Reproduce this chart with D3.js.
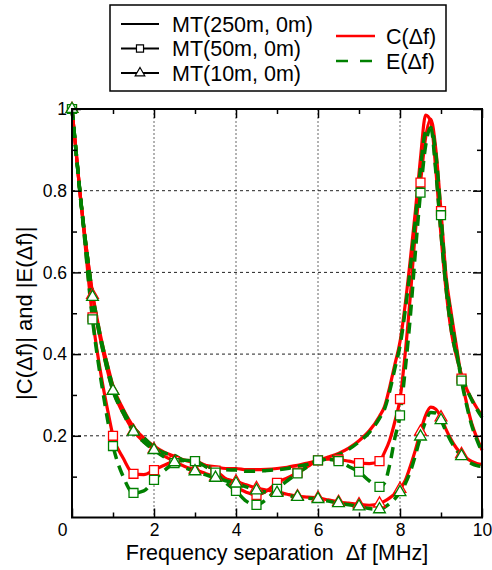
<!DOCTYPE html>
<html>
<head>
<meta charset="utf-8">
<script src="https://cdn.jsdelivr.net/npm/d3@7"></script>
<style>
  body { margin: 0; background: #fff; }
  svg { display: block; font-family: "Liberation Sans", Arial, Helvetica, sans-serif; }
</style>
</head>
<body>
<div id="chart"></div>
<script>
// frequency grid [MHz]
const freq = [0, 0.1, 0.2, 0.3, 0.4, 0.5, 0.625, 0.75, 0.875, 1,
  1.25, 1.5, 1.75, 2, 2.25, 2.5, 2.75, 3, 3.25, 3.5, 3.75, 4, 4.25, 4.5, 4.75,
  5, 5.25, 5.5, 5.75, 6, 6.25, 6.5, 6.75, 7, 7.25, 7.5,
  7.625, 7.75, 7.875, 8, 8.125, 8.25, 8.375, 8.5, 8.625, 8.75, 8.875, 9,
  9.125, 9.25, 9.375, 9.5, 9.625, 9.75, 9.875, 10];

// MT(250m, 0m)
const c250 = [1.0, 0.895, 0.79, 0.70, 0.62, 0.55, 0.48, 0.42, 0.37, 0.322,
  0.265, 0.222, 0.195, 0.175, 0.16, 0.15, 0.14, 0.134, 0.128, 0.124, 0.12, 0.12, 0.117, 0.117, 0.118,
  0.12, 0.123, 0.128, 0.133, 0.14, 0.148, 0.157, 0.17, 0.188, 0.212, 0.248,
  0.272, 0.32, 0.375, 0.43, 0.52, 0.63, 0.75, 0.88, 0.985, 0.97, 0.85, 0.69,
  0.555, 0.455, 0.395, 0.35, 0.315, 0.29, 0.268, 0.25];
const e250 = [1.0, 0.895, 0.79, 0.70, 0.62, 0.548, 0.478, 0.418, 0.367, 0.318,
  0.262, 0.22, 0.196, 0.172, 0.158, 0.152, 0.138, 0.13, 0.126, 0.12, 0.117, 0.116, 0.113, 0.113, 0.115,
  0.117, 0.12, 0.125, 0.13, 0.137, 0.145, 0.154, 0.167, 0.185, 0.208, 0.243,
  0.266, 0.31, 0.365, 0.42, 0.505, 0.61, 0.73, 0.855, 0.945, 0.955, 0.845, 0.695,
  0.56, 0.46, 0.398, 0.352, 0.315, 0.288, 0.265, 0.245];

// MT(50m, 0m)
const c50 = [1.0, 0.895, 0.79, 0.69, 0.585, 0.49, 0.40, 0.325, 0.26, 0.20,
  0.145, 0.107, 0.105, 0.116, 0.128, 0.138, 0.14, 0.138, 0.128, 0.115, 0.095, 0.075, 0.062, 0.055, 0.065,
  0.085, 0.097, 0.11, 0.125, 0.14, 0.143, 0.142, 0.138, 0.133, 0.132, 0.138,
  0.16, 0.19, 0.235, 0.29, 0.40, 0.54, 0.70, 0.82, 0.93, 0.975, 0.90, 0.75,
  0.59, 0.50, 0.42, 0.34, 0.28, 0.23, 0.195, 0.165];
const e50 = [1.0, 0.895, 0.79, 0.69, 0.58, 0.485, 0.39, 0.31, 0.235, 0.175,
  0.10, 0.06, 0.065, 0.092, 0.115, 0.133, 0.14, 0.138, 0.125, 0.11, 0.085, 0.065, 0.04, 0.031, 0.045,
  0.07, 0.09, 0.108, 0.125, 0.14, 0.142, 0.138, 0.125, 0.112, 0.09, 0.075,
  0.085, 0.13, 0.195, 0.25, 0.36, 0.49, 0.65, 0.795, 0.91, 0.955, 0.89, 0.74,
  0.58, 0.49, 0.41, 0.335, 0.275, 0.225, 0.19, 0.16];

// MT(10m, 0m)
const c10 = [1.0, 0.895, 0.79, 0.70, 0.62, 0.545, 0.47, 0.41, 0.355, 0.31,
  0.255, 0.212, 0.185, 0.167, 0.15, 0.137, 0.125, 0.117, 0.108, 0.10, 0.094, 0.088, 0.08, 0.072, 0.067,
  0.063, 0.057, 0.052, 0.05, 0.048, 0.043, 0.038, 0.035, 0.032, 0.03, 0.034,
  0.04, 0.048, 0.058, 0.07, 0.09, 0.125, 0.165, 0.21, 0.25, 0.27, 0.265, 0.245,
  0.215, 0.19, 0.17, 0.155, 0.145, 0.137, 0.132, 0.13];
const e10 = [1.0, 0.895, 0.79, 0.70, 0.62, 0.54, 0.47, 0.41, 0.355, 0.31,
  0.255, 0.21, 0.185, 0.165, 0.148, 0.135, 0.122, 0.113, 0.105, 0.097, 0.09, 0.083, 0.075, 0.066, 0.062,
  0.06, 0.054, 0.05, 0.047, 0.045, 0.04, 0.035, 0.031, 0.027, 0.022, 0.02,
  0.025, 0.034, 0.046, 0.062, 0.082, 0.112, 0.152, 0.198, 0.235, 0.257, 0.256, 0.238,
  0.21, 0.185, 0.165, 0.15, 0.14, 0.132, 0.127, 0.125];

const xTicks = [0, 2, 4, 6, 8, 10];
const xMinor = [1, 3, 5, 7, 9];
const yTicks = [0.2, 0.4, 0.6, 0.8, 1];
const yMinor = [0.1, 0.3, 0.5, 0.7, 0.9];

const scenarios = ['MT(250m, 0m)', 'MT(50m, 0m)', 'MT(10m, 0m)'];
const markerOf = [null, 'square', 'triangle'];
const cSeries = [c250, c50, c10];
const eSeries = [e250, e50, e10];

const RED = '#ff0000';
const GREEN = '#008000';

const W = 492, H = 570;
const margin = { top: 109, right: 10, bottom: 52.5, left: 72 };
const width = W - margin.left - margin.right;
const height = H - margin.top - margin.bottom;

const svg = d3.select('#chart').append('svg')
  .attr('width', W)
  .attr('height', H);

const x = d3.scaleLinear().domain([0, 10]).range([0, width]);
const y = d3.scaleLinear().domain([0, 1]).range([height, 0]);

const g = svg.append('g')
  .attr('transform', 'translate(' + margin.left + ',' + margin.top + ')');

// grid
g.append('g').selectAll('line').data([2, 4, 6, 8]).join('line')
  .attr('x1', d => x(d)).attr('x2', d => x(d))
  .attr('y1', 0).attr('y2', height)
  .attr('stroke', '#666').attr('stroke-width', 1).attr('stroke-dasharray', '2,2');
g.append('g').selectAll('line').data([0.2, 0.4, 0.6, 0.8]).join('line')
  .attr('y1', d => y(d)).attr('y2', d => y(d))
  .attr('x1', 0).attr('x2', width)
  .attr('stroke', '#222').attr('stroke-width', 1).attr('stroke-dasharray', '3,3');

// curves
const line = d3.line()
  .x((d, i) => x(freq[i]))
  .y(d => y(d))
  .curve(d3.curveMonotoneX);

cSeries.forEach(s => {
  g.append('path').datum(s).attr('d', line)
    .attr('fill', 'none').attr('stroke', RED).attr('stroke-width', 3.2);
});
eSeries.forEach(s => {
  g.append('path').datum(s).attr('d', line)
    .attr('fill', 'none').attr('stroke', GREEN).attr('stroke-width', 3.5)
    .attr('stroke-dasharray', '11,7');
});

// markers every 0.5 MHz
const markIdx = freq.map((f, i) => i).filter(i => freq[i] % 0.5 === 0 && freq[i] < 10);
const symSquare = d3.symbol(d3.symbolSquare, 80);
const symTriangle = d3.symbol(d3.symbolTriangle, 60);

function drawMarkers(series, kind, color) {
  const sym = kind === 'square' ? symSquare : symTriangle;
  g.append('g').selectAll('path').data(markIdx).join('path')
    .attr('d', sym)
    .attr('transform', i => 'translate(' + x(freq[i]) + ',' + y(series[i]) + ')')
    .attr('fill', '#fff').attr('stroke', color).attr('stroke-width', 1.3);
}
[1, 2].forEach(k => drawMarkers(cSeries[k], markerOf[k], RED));
[1, 2].forEach(k => drawMarkers(eSeries[k], markerOf[k], GREEN));

// axes (ticks pointing inwards, on all four sides)
function styleAxis(sel) {
  sel.select('.domain').remove();
  sel.selectAll('line').attr('stroke', '#000').attr('stroke-width', 1.5);
  sel.selectAll('text').attr('font-size', 17.5).attr('fill', '#000')
    .attr('font-family', '"Liberation Sans", Arial, sans-serif');
}

const xAxis = g.append('g').attr('transform', 'translate(0,' + height + ')')
  .call(d3.axisBottom(x).tickValues(xTicks).tickSize(-9).tickPadding(6).tickFormat(d3.format('d')))
  .call(styleAxis);
xAxis.selectAll('.tick').filter(d => d === 0).select('text').attr('dx', -10);
g.append('g').attr('transform', 'translate(0,' + height + ')')
  .call(d3.axisBottom(x).tickValues(xMinor).tickSize(-5).tickFormat(''))
  .call(styleAxis);
g.append('g')
  .call(d3.axisTop(x).tickValues(xTicks).tickSize(-9).tickFormat(''))
  .call(styleAxis);
g.append('g')
  .call(d3.axisTop(x).tickValues(xMinor).tickSize(-5).tickFormat(''))
  .call(styleAxis);

g.append('g')
  .call(d3.axisLeft(y).tickValues(yTicks).tickSize(-9).tickPadding(5).tickFormat(d => d === 1 ? '1' : d3.format('.1f')(d)))
  .call(styleAxis);
g.append('g')
  .call(d3.axisLeft(y).tickValues(yMinor).tickSize(-5).tickFormat(''))
  .call(styleAxis);
g.append('g').attr('transform', 'translate(' + width + ',0)')
  .call(d3.axisRight(y).tickValues(yTicks).tickSize(-9).tickFormat(''))
  .call(styleAxis);
g.append('g').attr('transform', 'translate(' + width + ',0)')
  .call(d3.axisRight(y).tickValues(yMinor).tickSize(-5).tickFormat(''))
  .call(styleAxis);

// frame
g.append('rect').attr('x', 0).attr('y', 0).attr('width', width).attr('height', height)
  .attr('fill', 'none').attr('stroke', '#000').attr('stroke-width', 2);

// axis titles
svg.append('text')
  .attr('x', margin.left + width / 2).attr('y', 560)
  .attr('text-anchor', 'middle').attr('font-size', 21.5)
  .style('white-space', 'pre')
  .text('Frequency separation  \u0394f [MHz]');
svg.append('text')
  .attr('transform', 'translate(32,' + (margin.top + height / 2) + ') rotate(-90)')
  .attr('text-anchor', 'middle').attr('font-size', 22)
  .text('|C(\u0394f)| and |E(\u0394f)|');

// legend
const legend = svg.append('g');
legend.append('rect').attr('x', 110).attr('y', 5).attr('width', 336).attr('height', 86)
  .attr('fill', '#fff').attr('stroke', '#000').attr('stroke-width', 1.5);

const rowY = [24, 48.5, 73];
scenarios.forEach((name, k) => {
  legend.append('line').attr('x1', 121).attr('x2', 159).attr('y1', rowY[k]).attr('y2', rowY[k])
    .attr('stroke', '#000').attr('stroke-width', 2);
  if (markerOf[k]) {
    const sym = markerOf[k] === 'square' ? d3.symbol(d3.symbolSquare, 50) : d3.symbol(d3.symbolTriangle, 40);
    legend.append('path').attr('d', sym)
      .attr('transform', 'translate(140,' + rowY[k] + ')')
      .attr('fill', '#fff').attr('stroke', '#000').attr('stroke-width', 1.2);
  }
  legend.append('text').attr('x', 172).attr('y', rowY[k]).attr('dy', '0.35em')
    .attr('font-size', 21.5).text(name);
});

const rightRows = [
  { label: 'C(\u0394f)', color: RED, dash: null, y: 36 },
  { label: 'E(\u0394f)', color: GREEN, dash: '12,12', y: 61 }
];
rightRows.forEach(r => {
  legend.append('line').attr('x1', 336).attr('x2', 375).attr('y1', r.y).attr('y2', r.y)
    .attr('stroke', r.color).attr('stroke-width', 2.5)
    .attr('stroke-dasharray', r.dash);
  legend.append('text').attr('x', 386).attr('y', r.y).attr('dy', '0.35em')
    .attr('font-size', 21.5).text(r.label);
});
</script>
</body>
</html>
